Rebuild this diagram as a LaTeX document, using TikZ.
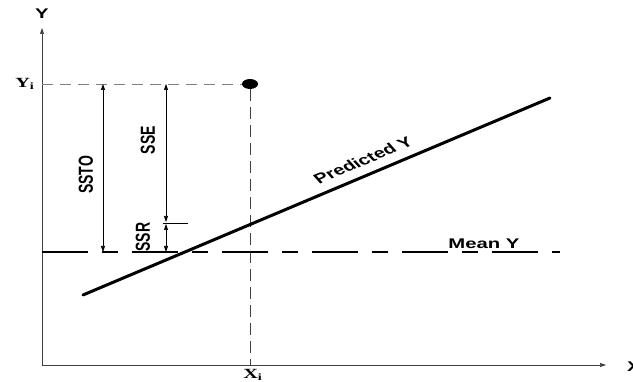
\documentclass[tikz,border=0pt]{standalone}
\usepackage{fontspec}
\setmainfont{Liberation Serif}
\setsansfont{Liberation Sans}
\usetikzlibrary{arrows.meta, positioning, calc}

\begin{document}
\begin{tikzpicture}[
  x=1pt, y=1pt,
  >={Triangle[length=6pt, width=4pt]},
  every node/.style={font=\fontsize{14}{15}\selectfont\sffamily\bfseries, inner sep=0pt},
  % --- label styles ---
  lbl/.style={xscale=1.45},
  sublbl/.style={xscale=1.45, font=\fontsize{14}{15}\selectfont\rmfamily\bfseries},
  % --- line styles ---
  axis/.style={->, line width=0.6pt, draw=black!75},
  guide/.style={draw=black!50, line width=0.7pt, dash pattern=on 11pt off 7pt},
  drop/.style={draw=black!75, line width=0.7pt, dash pattern=on 12pt off 6pt},
  meanline/.style={line width=2.4pt, dash pattern=on 46pt off 14pt on 16pt off 14pt},
  predline/.style={line width=3pt, line cap=round},
  dimarr/.style={<->, line width=0.6pt},
]
\useasboundingbox (0,0) rectangle (633,382);

% ---------- Axes ----------
\coordinate (o) at (42,17);
\coordinate (ytop) at (42,354);
\coordinate (xend) at (606,17);
\draw[axis] (o) -- (ytop);
\draw[axis] (o) -- (xend);
\node[lbl] (ylbl) at (42,368) {Y};
\node[lbl] (xlbl) at (634,15) {X};

% ---------- Observed point ----------
\node[circle, fill=black, minimum size=10pt, xscale=1.6] (pt) at (250,298) {};
\coordinate (yi) at (42,298);
\coordinate (xi) at (250,17);
\node[sublbl] (yilbl) at (25,298) {Y\textsubscript{i}};
\node[sublbl] (xilbl) at (253,7) {X\textsubscript{i}};
\draw[guide] (yi) -- (pt.west);
\draw[drop] (pt.south) -- (xi);

% ---------- Mean and predicted lines ----------
\coordinate (mstart) at (42,130);
\coordinate (mend) at (560,130);
\draw[meanline] (mstart) -- (mend);
\node[lbl] (meanlbl) at (484,138) {Mean Y};

\coordinate (pstart) at (83,87);
\coordinate (pend) at (550,284);
\draw[predline] (pstart) -- (pend);
\node[lbl, rotate=31.5] (predlbl) at (363,222) {Predicted Y};

% ---------- Deviations ----------
\coordinate (stotop) at (103,298);
\coordinate (stobot) at (103,130);
\draw[dimarr] (stotop) -- (stobot);
\node[lbl, rotate=90] (ssto) at (86,207) {SSTO};

\coordinate (ssetop) at (166,298);
\coordinate (yhat) at (166,159);
\coordinate (tickend) at (188,159);
\draw[dimarr] (ssetop) -- ([yshift=1pt]yhat);
\draw[dimarr] ([yshift=-1pt]yhat) -- (yhat |- mstart);
\draw[line width=0.4pt] ([xshift=-3pt]yhat) -- (tickend);
\node[lbl, rotate=90] (sse) at (148,242) {SSE};
\node[lbl, rotate=90] (ssr) at (143,145) {SSR};

\end{tikzpicture}
\end{document}
